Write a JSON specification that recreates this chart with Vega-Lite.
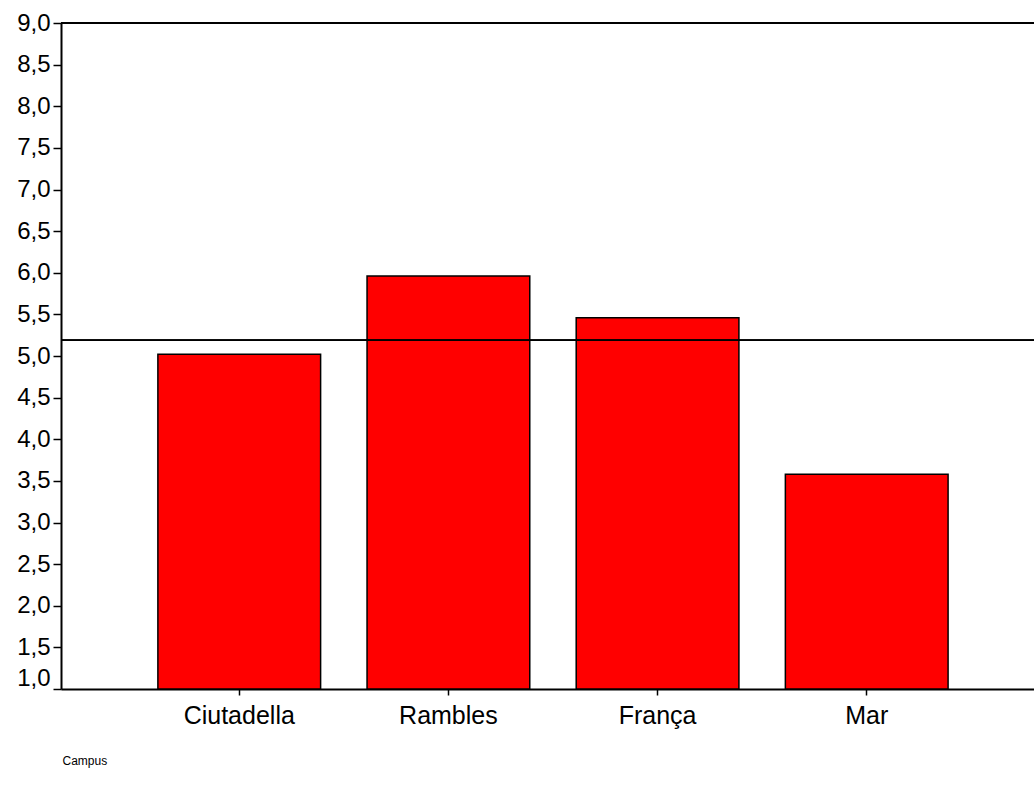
{
  "$schema": "https://vega.github.io/schema/vega-lite/v6.json",
  "width": 973,
  "height": 666,
  "autosize": {"type": "none"},
  "padding": {"left": 61, "top": 23, "right": 0, "bottom": 103},
  "background": "white",
  "config": {
    "view": {"stroke": null},
    "font": "Liberation Sans"
  },
  "data": {
    "values": [
      {"campus": "Ciutadella", "value": 5.02},
      {"campus": "Rambles", "value": 5.96},
      {"campus": "França", "value": 5.46},
      {"campus": "Mar", "value": 3.58}
    ]
  },
  "layer": [
    {
      "mark": {"type": "bar", "color": "#ff0000", "stroke": "black", "strokeWidth": 1.5},
      "encoding": {
        "x": {
          "field": "campus",
          "type": "nominal",
          "sort": null,
          "scale": {"paddingInner": 0.222, "paddingOuter": 0.437, "align": 0.53},
          "axis": {
            "title": "Campus",
            "titleFont": "Liberation Sans",
            "titleFontSize": 12,
            "titleFontWeight": "normal",
            "titleColor": "black",
            "titleAnchor": "start",
            "titleAlign": "left",
            "titleX": 1,
            "titleY": 71,
            "titleBaseline": "middle",
            "labelAngle": 0,
            "labelFontSize": 25,
            "labelColor": "black",
            "labelFont": "Liberation Sans",
            "labelPadding": 8,
            "tickSize": 6,
            "tickColor": "black",
            "tickWidth": 1.5,
            "domainColor": "black",
            "domainWidth": 2
          }
        },
        "y": {
          "field": "value",
          "type": "quantitative",
          "scale": {"domain": [1, 9], "zero": false, "nice": false},
          "axis": {
            "title": null,
            "values": [1, 1.5, 2, 2.5, 3, 3.5, 4, 4.5, 5, 5.5, 6, 6.5, 7, 7.5, 8, 8.5, 9],
            "labelExpr": "replace(format(datum.value, '.1f'), '.', ',')",
            "labelFontSize": 24,
            "labelColor": "black",
            "labelFont": "Liberation Sans",
            "labelPadding": 3,
            "labelOffset": {"condition": {"test": "datum.value == 1", "value": -11}, "value": 0},
            "labelOverlap": false,
            "grid": false,
            "tickSize": 8,
            "tickColor": "black",
            "tickWidth": 1.5,
            "domainColor": "black",
            "domainWidth": 2
          }
        },
        "y2": {"datum": 1}
      }
    },
    {
      "mark": {"type": "rule", "color": "black", "strokeWidth": 2},
      "encoding": {"y": {"datum": 9, "type": "quantitative"}}
    },
    {
      "mark": {"type": "rule", "color": "black", "strokeWidth": 1.5},
      "encoding": {"y": {"datum": 5.19, "type": "quantitative"}}
    }
  ]
}
